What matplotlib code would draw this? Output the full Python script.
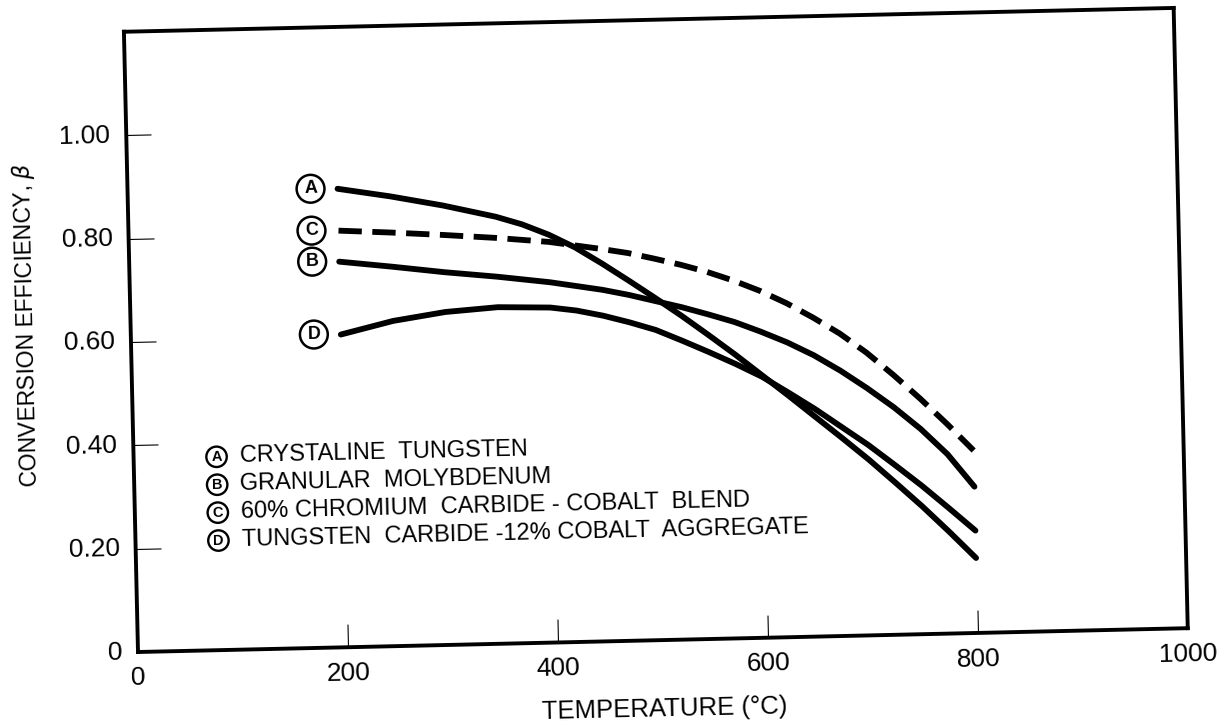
import numpy as np
import matplotlib
matplotlib.use("Agg")
import matplotlib.pyplot as plt
from matplotlib.transforms import Affine2D
import mpl_toolkits.axisartist.floating_axes as floating_axes
from mpl_toolkits.axisartist.grid_finder import FixedLocator, DictFormatter

plt.rcParams["font.family"] = ["Liberation Sans", "DejaVu Sans"]

# conversion efficiency vs temperature (deg C) for four coatings
temps_a = [200, 250, 300, 350, 375, 400, 425, 450, 475, 500, 525, 550, 575, 600,
           625, 650, 675, 700, 725, 750, 775, 800]
beta_a = [0.887, 0.870, 0.850, 0.826, 0.810, 0.789, 0.763, 0.731, 0.697, 0.662, 0.626,
          0.588, 0.549, 0.508, 0.467, 0.425, 0.383, 0.340, 0.294, 0.247, 0.197, 0.145]

temps_b = [200, 250, 300, 350, 400, 450, 475, 500, 525, 550, 575, 600, 625, 650,
           675, 700, 725, 750, 775, 800]
beta_b = [0.746, 0.734, 0.721, 0.710, 0.697, 0.680, 0.669, 0.656, 0.643, 0.628, 0.612,
          0.592, 0.570, 0.544, 0.513, 0.478, 0.440, 0.397, 0.347, 0.283]

temps_c = [200, 250, 300, 350, 400, 450, 475, 500, 525, 550, 575, 600, 625, 650,
           675, 700, 725, 750, 775, 800]
beta_c = [0.806, 0.800, 0.793, 0.785, 0.775, 0.759, 0.750, 0.738, 0.725, 0.710, 0.692,
          0.671, 0.646, 0.617, 0.585, 0.547, 0.503, 0.456, 0.406, 0.353]

temps_d = [200, 250, 300, 350, 400, 425, 450, 475, 500, 525, 550, 575, 600, 625,
           650, 675, 700, 725, 750, 775, 800]
beta_d = [0.605, 0.629, 0.644, 0.651, 0.648, 0.641, 0.630, 0.616, 0.600, 0.578, 0.555,
          0.531, 0.505, 0.473, 0.440, 0.404, 0.368, 0.328, 0.287, 0.243, 0.198]

letters = ["A", "B", "C", "D"]
materials = [
    "CRYSTALINE  TUNGSTEN",
    "GRANULAR  MOLYBDENUM",
    "60% CHROMIUM  CARBIDE - COBALT  BLEND",
    "TUNGSTEN  CARBIDE -12% COBALT  AGGREGATE",
]

x_ticks = [0, 200, 400, 600, 800, 1000]
x_tick_labels = ["0", "200", "400", "600", "800", "1000"]
y_ticks = [0, 0.2, 0.4, 0.6, 0.8, 1.0]
y_tick_labels = ["0", "0.20", "0.40", "0.60", "0.80", "1.00"]

W, H = 1227, 725
fig = plt.figure(figsize=(W / 100, H / 100), dpi=100)

# the page sits slightly askew, so the plot frame is turned a little
tilt = 1.3
px_per_deg = 1.05
px_per_beta = 517.0
tr = Affine2D().scale(px_per_deg, px_per_beta).rotate_deg(tilt)

grid_helper = floating_axes.GridHelperCurveLinear(
    tr, extremes=(0, 1000, 0, 1.2),
    grid_locator1=FixedLocator(x_ticks),
    tick_formatter1=DictFormatter(dict(zip(x_ticks, x_tick_labels))),
    grid_locator2=FixedLocator(y_ticks),
    tick_formatter2=DictFormatter(dict(zip(y_ticks, y_tick_labels))),
)

# frame corners in pixel units -> axes rectangle
# (FloatingAxes pads its limits by 2 %, so the box is grown to match)
corners = tr.transform(np.array([[0, 0], [1000, 0], [0, 1.2], [1000, 1.2]]))
x0, y0 = corners.min(axis=0)
x1, y1 = corners.max(axis=0)
origin_px = (138, 652)
cx = origin_px[0] + (x0 + x1) / 2
cy = origin_px[1] - (y0 + y1) / 2
bw, bh = (x1 - x0) * 1.02, (y1 - y0) * 1.02
ax = fig.add_axes([(cx - bw / 2) / W, (H - cy - bh / 2) / H, bw / W, bh / H],
                  axes_class=floating_axes.FloatingAxes, grid_helper=grid_helper)

for side in ["left", "right", "top", "bottom"]:
    ax.axis[side].line.set_linewidth(2.8)
for side in ["right", "top"]:
    ax.axis[side].major_ticks.set_visible(False)
    ax.axis[side].major_ticklabels.set_visible(False)

for side, size in [("left", 18), ("bottom", 16.5)]:
    ax.axis[side].major_ticks.set_tick_out(False)
    ax.axis[side].major_ticks.set_ticksize(size)
    ax.axis[side].major_ticks.set_linewidth(1.2)
    ax.axis[side].major_ticklabels.set_fontsize(19)
ax.axis["left"].major_ticklabels.set_pad(11.5)
ax.axis["bottom"].major_ticklabels.set_pad(11)

ax.axis["bottom"].label.set_text("TEMPERATURE (°C)")
ax.axis["bottom"].label.set_fontsize(18.5)
ax.axis["bottom"].label.set_pad(17)
fig.text(27 / W, 1 - 325 / H, r"CONVERSION EFFICIENCY, $\beta$",
         rotation=90 + tilt, ha="center", va="center", fontsize=16.5)

aux = ax.get_aux_axes(tr)
lw = 4.2
aux.plot(temps_a, beta_a, color="black", lw=lw, solid_capstyle="round")
aux.plot(temps_b, beta_b, color="black", lw=lw, solid_capstyle="round")
aux.plot(temps_c, beta_c, color="black", lw=lw, ls=(0, (4, 1.8)))
aux.plot(temps_d, beta_d, color="black", lw=lw, solid_capstyle="round")

circle = dict(boxstyle="circle,pad=0.3", fc="white", ec="black", lw=1.8)
for letter, t, series in zip(letters, [temps_a, temps_b, temps_c, temps_d],
                             [beta_a, beta_b, beta_c, beta_d]):
    aux.annotate(letter, xy=(t[0], series[0]), xytext=(-27, 0),
                 textcoords="offset pixels", ha="center", va="center",
                 fontsize=13, fontweight="bold", bbox=circle, rotation=tilt)

# key to the curve letters
key_circle = dict(boxstyle="circle,pad=0.22", fc="white", ec="black", lw=1.7)
for i, (letter, name) in enumerate(zip(letters, materials)):
    row = 0.374 - 0.054 * i
    aux.text(79, row, letter, ha="center", va="center", fontsize=10.5,
             fontweight="bold", bbox=key_circle, rotation=tilt,
             rotation_mode="anchor")
    aux.text(101, row, name, ha="left", va="center", fontsize=17,
             rotation=tilt, rotation_mode="anchor")

fig.savefig("out.png", dpi=100)
